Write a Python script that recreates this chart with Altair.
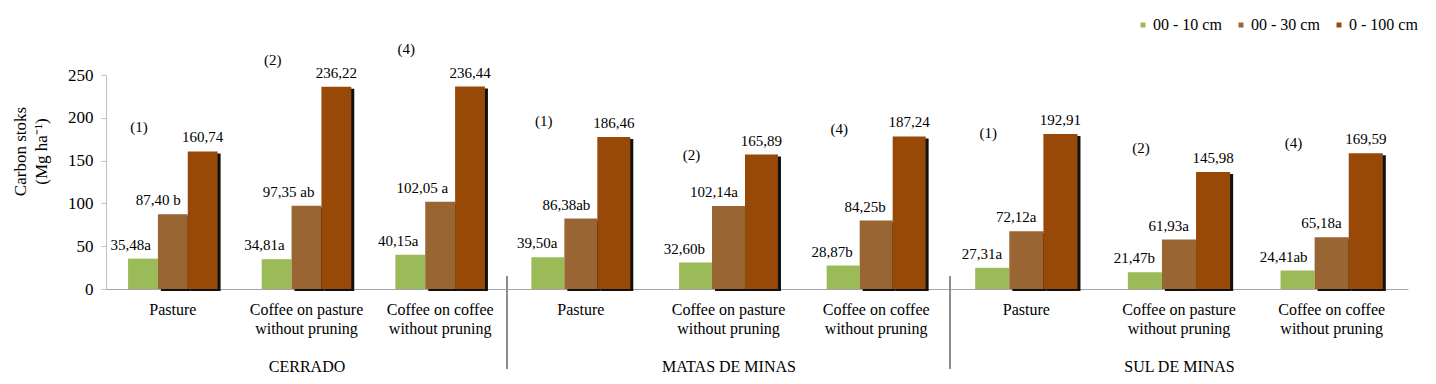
import altair as alt
import pandas as pd

regions = ["CERRADO", "MATAS DE MINAS", "SUL DE MINAS"]
treatments = ["Pasture", "Coffee on pasture without pruning", "Coffee on coffee without pruning"]
depths = ["00 - 10 cm", "00 - 30 cm", "0 - 100 cm"]
colors = ["#9BBB59", "#996633", "#984807"]

# bar heights as drawn in the picture (Mg ha-1)
cerrado_d10 = [35.48, 34.81, 40.15]
cerrado_d30 = [87.40, 97.35, 102.05]
cerrado_d100 = [160.74, 236.22, 236.44]
matas_d10 = [37.1, 30.9, 27.4]
matas_d30 = [82.3, 97.1, 79.9]
matas_d100 = [177.6, 157.0, 178.3]
sul_d10 = [24.7, 19.6, 21.6]
sul_d30 = [67.4, 57.7, 60.4]
sul_d100 = [181.2, 136.6, 158.7]

# printed value labels
cerrado_txt10 = ["35,48a", "34,81a", "40,15a"]
cerrado_txt30 = ["87,40 b", "97,35 ab", "102,05 a"]
cerrado_txt100 = ["160,74", "236,22", "236,44"]
matas_txt10 = ["39,50a", "32,60b", "28,87b"]
matas_txt30 = ["86,38ab", "102,14a", "84,25b"]
matas_txt100 = ["186,46", "165,89", "187,24"]
sul_txt10 = ["27,31a", "21,47b", "24,41ab"]
sul_txt30 = ["72,12a", "61,93a", "65,18a"]
sul_txt100 = ["192,91", "145,98", "169,59"]

# group annotations and their height (in data units)
notes = ["(1)", "(2)", "(4)"]
cerrado_note_y = [189, 268, 280]
matas_note_y = [196, 156, 187]
sul_note_y = [182, 165, 170]

FONT = "Liberation Serif"
PLOT_H = 214


def make_y(field, show_axis):
    scale = alt.Scale(domain=[0, 250], nice=False)
    if show_axis:
        axis = alt.Axis(
            title=["Carbon stoks", "(Mg ha\u207b\u00b9)"],
            values=[0, 50, 100, 150, 200, 250],
            grid=False,
            tickSize=5,
            tickColor="#bfbfbf",
            domainColor="#bfbfbf",
            labelFont=FONT,
            labelFontSize=17,
            labelPadding=8,
            labelColor="black",
            titleFont=FONT,
            titleFontSize=17,
            titleFontWeight="normal",
            titleColor="black",
            titleAngle=270,
            titleAlign="center",
            titleBaseline="top",
            titleX=-94,
            titleY=76,
            titleLineHeight=21,
        )
        return alt.Y(f"{field}:Q", scale=scale, axis=axis)
    return alt.Y(f"{field}:Q", scale=scale, axis=None)


def make_panel(idx, d10, d30, d100, t10, t30, t100, note_y, width, label_dx):
    rows = []
    for i, t in enumerate(treatments):
        for dep, v, tx in zip(depths, (d10[i], d30[i], d100[i]), (t10[i], t30[i], t100[i])):
            rows.append({"treatment": t, "depth": dep, "value": v, "label": tx})
    df = pd.DataFrame(rows)
    notes_df = pd.DataFrame(
        {"treatment": treatments, "depth": [depths[0]] * 3, "note": notes, "note_y": note_y}
    )

    x_axis = alt.Axis(
        title=regions[idx],
        labelAngle=0,
        labelExpr="split(replace(datum.label, ' without', '|without'), '|')",
        ticks=False,
        domainColor="#a6a6a6",
        labelFont=FONT,
        labelFontSize=16,
        labelLineHeight=19,
        labelPadding=12,
        labelColor="black",
        labelLimit=0,
        titleFont=FONT,
        titleFontSize=16,
        titleFontWeight="normal",
        titleColor="black",
        titlePadding=22,
    )
    x = alt.X("treatment:N", sort=treatments,
              scale=alt.Scale(paddingInner=0.33, paddingOuter=0.165), axis=x_axis)

    bw = width / 3 * 0.67

    def xo_band(shift=0.0):
        return alt.XOffset("depth:N", sort=depths,
                           scale=alt.Scale(type="band", domain=depths, paddingInner=0,
                                           paddingOuter=0, range=[shift, bw + shift]))

    def xo_point():
        return alt.XOffset("depth:N", sort=depths,
                           scale=alt.Scale(type="point", domain=depths, padding=0.5,
                                           range=[0, bw]))

    show = idx == 0
    y = make_y("value", show)

    color = alt.Color(
        "depth:N",
        sort=depths,
        scale=alt.Scale(domain=depths, range=colors),
        legend=alt.Legend(
            title=None,
            orient="none",
            legendX=1029,
            legendY=-58,
            direction="horizontal",
            symbolType="square",
            symbolSize=25,
            symbolStrokeWidth=0,
            labelFont=FONT,
            labelFontSize=16,
            labelOffset=2,
            columnPadding=11,
            labelColor="black",
        ),
    )

    base = alt.Chart(df)
    shadow = base.transform_filter(
        alt.FieldOneOfPredicate(field="depth", oneOf=depths[1:])
    ).mark_bar(color="#111111", yOffset=2).encode(x=x, xOffset=xo_band(3), y=y)
    bars = base.mark_bar().encode(x=x, xOffset=xo_band(), y=y, color=color)
    txt_left = base.transform_filter(
        alt.FieldOneOfPredicate(field="depth", oneOf=depths[:2])
    ).mark_text(align="right", baseline="alphabetic", dx=label_dx, dy=-9, fontSize=15,
                font=FONT, color="black").encode(x=x, xOffset=xo_point(), y=y, text="label:N")
    txt_top = base.transform_filter(
        alt.FieldEqualPredicate(field="depth", equal=depths[2])
    ).mark_text(align="center", baseline="alphabetic", dy=-9, fontSize=15,
                font=FONT, color="black").encode(x=x, xOffset=xo_point(), y=y, text="label:N")
    note = alt.Chart(notes_df).mark_text(
        align="center", baseline="middle", dx=-4, fontSize=15, font=FONT, color="black"
    ).encode(x=x, xOffset=xo_point(), y=make_y("note_y", show), text="note:N")
    layers = [shadow, bars, txt_left, txt_top, note]
    if idx > 0:
        sep = alt.Chart(df).mark_rule(color="#8c8c8c", strokeWidth=1).encode(
            x=alt.value(0), y=alt.value(201), y2=alt.value(294)
        )
        layers.append(sep)
    return alt.layer(*layers).resolve_scale(xOffset="independent").properties(
        width=width, height=PLOT_H)


p1 = make_panel(0, cerrado_d10, cerrado_d30, cerrado_d100,
                cerrado_txt10, cerrado_txt30, cerrado_txt100, cerrado_note_y, 401, 8)
p2 = make_panel(1, matas_d10, matas_d30, matas_d100,
                matas_txt10, matas_txt30, matas_txt100, matas_note_y, 443, 9.5)
p3 = make_panel(2, sul_d10, sul_d30, sul_d100,
                sul_txt10, sul_txt30, sul_txt100, sul_note_y, 458, 10)

chart = alt.hconcat(p1, p2, p3, spacing=0, bounds="flush").properties(
    padding={"left": 2, "top": 9, "right": 0, "bottom": 5}
).configure(font=FONT).configure_view(stroke="transparent")

chart.save("out.html", embed_options={"renderer": "svg", "actions": False})
